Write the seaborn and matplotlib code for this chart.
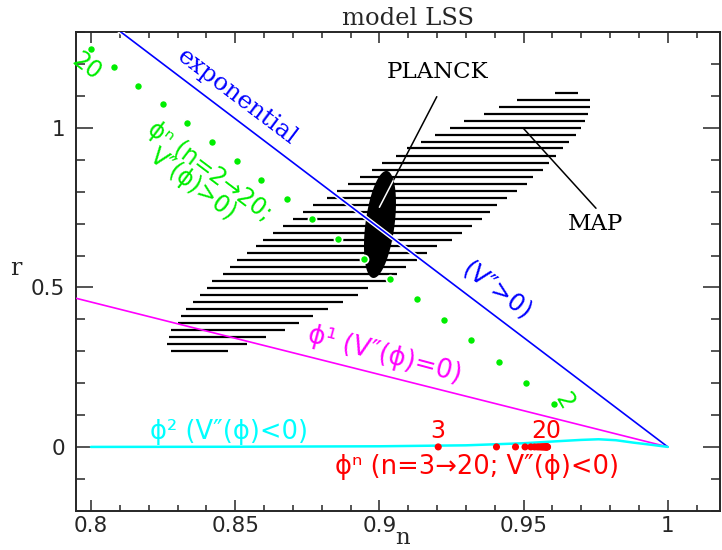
import numpy as np
import pandas as pd
import matplotlib
matplotlib.use("Agg")
import matplotlib.pyplot as plt
import matplotlib.patheffects as pe
from matplotlib.ticker import FixedLocator, MultipleLocator
import seaborn as sns

# ---------------- data ----------------
x_ticks = [0.8, 0.85, 0.9, 0.95, 1.0]
x_ticklabels = ["0.8", "0.85", "0.9", "0.95", "1"]
y_ticks = [0.0, 0.5, 1.0]
y_ticklabels = ["0", "0.5", "1"]

# exponential potential (V''>0)
exp_n = [0.80, 1.00]
exp_r = [1.372, 0.0]

# phi^1 (V''=0)
phi1_n = [0.79, 1.00]
phi1_r = [0.477, 0.0]

# phi^2 (V''<0)
phi2_n = [0.80, 0.85, 0.90, 0.93, 0.95, 0.963, 0.970, 0.976, 0.982, 0.988, 0.994, 1.00]
phi2_r = [0.0, 0.0005, 0.002, 0.005, 0.0115, 0.0185, 0.022, 0.024, 0.021, 0.0135, 0.007, 0.0]

# phi^n, n = 20 -> 2, V''>0
green_n = [0.7999, 0.8080, 0.8164, 0.8249, 0.8332, 0.8419, 0.8505, 0.8591, 0.8680,
           0.8767, 0.8857, 0.8948, 0.9038, 0.9131, 0.9223, 0.9317, 0.9413, 0.9508, 0.9605]
green_r = [1.2476, 1.1903, 1.1326, 1.0743, 1.0166, 0.9571, 0.8966, 0.8370, 0.7765,
           0.7147, 0.6530, 0.5903, 0.5266, 0.4630, 0.3991, 0.3345, 0.2674, 0.2016, 0.1348]

# phi^n, n = 3 -> 20, V''<0
red_n = [0.9204, 0.9406, 0.9472, 0.9505, 0.9525, 0.9538, 0.9548, 0.9555, 0.9561,
         0.9565, 0.9569, 0.9572, 0.9575, 0.9577, 0.9579, 0.9580, 0.9582, 0.9583]
red_r = [0.0, 0.0, 0.0, 0.0, 0.0, 0.0, 0.0, 0.0, 0.0,
         0.0, 0.0, 0.0, 0.0, 0.0, 0.0, 0.0, 0.0, 0.0]

# MAP region, hatched with horizontal lines
map_r = [1.1088, 1.0878, 1.0658, 1.0439, 1.0219, 1.0009, 0.9790, 0.9571, 0.9364, 0.9132,
         0.8912, 0.8693, 0.8473, 0.8254, 0.8034, 0.7815, 0.7596, 0.7376, 0.7157, 0.6937,
         0.6718, 0.6498, 0.6292, 0.6072, 0.5853, 0.5633, 0.5414, 0.5194, 0.4975, 0.4755,
         0.4536, 0.4317, 0.4097, 0.3878, 0.3658, 0.3439, 0.3229, 0.3009]
map_nlo = [0.9609, 0.9478, 0.9413, 0.9363, 0.9295, 0.9245, 0.9194, 0.9143, 0.9095, 0.9058,
           0.9008, 0.8974, 0.8933, 0.8890, 0.8854, 0.8817, 0.8769, 0.8736, 0.8700, 0.8665,
           0.8630, 0.8596, 0.8572, 0.8542, 0.8505, 0.8482, 0.8457, 0.8421, 0.8401, 0.8378,
           0.8355, 0.8330, 0.8311, 0.8302, 0.8276, 0.8270, 0.8265, 0.8276]
map_nhi = [0.9688, 0.9731, 0.9731, 0.9723, 0.9713, 0.9698, 0.9681, 0.9658, 0.9636, 0.9613,
           0.9588, 0.9567, 0.9531, 0.9511, 0.9476, 0.9442, 0.9407, 0.9384, 0.9355, 0.9320,
           0.9286, 0.9251, 0.9199, 0.9164, 0.9130, 0.9092, 0.9061, 0.9026, 0.8962, 0.8927,
           0.8875, 0.8823, 0.8771, 0.8722, 0.8673, 0.8607, 0.8540, 0.8474]

# PLANCK ellipse: centre and half-axis vectors (n, r)
planck_center = (0.9002, 0.6975)
planck_major = (0.0024, 0.1677)
planck_minor = (0.0050, -0.0058)

# leader lines (n, r)
planck_leader_n = [0.9199, 0.9000]
planck_leader_r = [1.0981, 0.7514]
map_leader_n = [0.9499, 0.9751]
map_leader_r = [0.9991, 0.7483]

# ---------------- style ----------------
sns.set_style("ticks")
plt.rcParams["font.family"] = ["DejaVu Sans"]

BLUE = "#0000ff"
MAG = "#ff00ff"
CYAN = "#00ffff"
GREEN = "#00ee00"
RED = "#ff0000"

fig = plt.figure(figsize=(7.22, 5.5), dpi=100)
ax = fig.add_axes([76 / 722, 1 - 510.7 / 550, (720 - 76) / 722, (510.7 - 32.3) / 550])

# MAP hatching
ax.hlines(map_r, map_nlo, map_nhi, colors="black", linewidth=1.6, zorder=1)

# MAP leader
sns.lineplot(x=map_leader_n, y=map_leader_r, ax=ax, color="black", linewidth=1.1,
             sort=False, estimator=None, zorder=2)

# PLANCK leader (black part) and ellipse
sns.lineplot(x=planck_leader_n, y=planck_leader_r, ax=ax, color="black", linewidth=1.1,
             sort=False, estimator=None, zorder=2)
t = np.linspace(0, 2 * np.pi, 300)
ell_n = planck_center[0] + planck_major[0] * np.cos(t) + planck_minor[0] * np.sin(t)
ell_r = planck_center[1] + planck_major[1] * np.cos(t) + planck_minor[1] * np.sin(t)
ell = ax.fill(ell_n, ell_r, color="black", zorder=3, linewidth=0)[0]
wl, = ax.plot(planck_leader_n, planck_leader_r, color="white", linewidth=1.1, zorder=4)
wl.set_clip_path(ell)

# model lines
line_df = pd.DataFrame({"n": exp_n, "r": exp_r})
sns.lineplot(data=line_df, x="n", y="r", ax=ax, color=BLUE, linewidth=1.2, sort=False,
             estimator=None, zorder=5,
             path_effects=[pe.Stroke(linewidth=3.2, foreground="white"), pe.Normal()])
sns.lineplot(x=phi1_n, y=phi1_r, ax=ax, color=MAG, linewidth=1.2, sort=False,
             estimator=None, zorder=5)
sns.lineplot(x=phi2_n, y=phi2_r, ax=ax, color=CYAN, linewidth=1.8, sort=False,
             estimator=None, zorder=5)

# points
ax.scatter(green_n, green_r, s=34, color=GREEN, edgecolors="white", linewidths=1.2, zorder=6)
ax.scatter(red_n, red_r, s=26, color=RED, edgecolors="none", zorder=6)

ax.set_xlim(0.7948, 1.0181)
ax.set_ylim(-0.2, 1.3)

# ticks
ax.xaxis.set_major_locator(FixedLocator(x_ticks))
ax.set_xticklabels(x_ticklabels)
ax.yaxis.set_major_locator(FixedLocator(y_ticks))
ax.set_yticklabels(y_ticklabels)
ax.xaxis.set_minor_locator(MultipleLocator(0.01))
ax.yaxis.set_minor_locator(MultipleLocator(0.1))
ax.tick_params(axis="x", which="major", direction="in", length=8, width=1.1, top=True,
               bottom=True, labelsize=15.5, pad=4)
ax.tick_params(axis="x", which="minor", direction="in", length=4.3, width=1.1, top=True,
               bottom=True)
ax.tick_params(axis="y", which="major", direction="in", length=12, width=1.1, left=True,
               right=True, labelsize=15.5, pad=8)
ax.tick_params(axis="y", which="minor", direction="in", length=6.5, width=1.1, left=True,
               right=True)
for s in ax.spines.values():
    s.set_linewidth(1.4)
    s.set_visible(True)
ax.set_xlabel("")
ax.set_ylabel("")

# axis labels and title
fig.text(403 / 722, 1 / 550, "n", ha="center", va="bottom", family="DejaVu Serif", size=16.5)
fig.text(16 / 722, 1 - 275 / 550, "r", ha="center", va="baseline", family="DejaVu Serif", size=17)
fig.text(408 / 722, 1 - 25 / 550, "model LSS", ha="center", va="baseline",
         family="DejaVu Serif", size=17.5)

# annotations
def lab(n, r, s, color, size=16, rot=0, family="DejaVu Sans"):
    ax.text(n, r, s, color=color, fontsize=size, rotation=rot, rotation_mode="anchor",
            ha="center", va="center", family=family, zorder=7)

lab(0.9201, 1.1740, "PLANCK", "black", 16.5, 0, "DejaVu Serif")
lab(0.9751, 0.6991, "MAP", "black", 16.5, 0, "DejaVu Serif")
lab(0.8505, 1.0972, "exponential", BLUE, 17.5, -37, "DejaVu Serif")
lab(0.9410, 0.4890, "(V\u2033>0)", BLUE, 17.5, -37)
lab(0.8413, 0.8652, "\u03d5\u207f (n=2\u219220;", GREEN, 17, -37)
lab(0.8355, 0.8219, "V\u2033(\u03d5)>0)", GREEN, 17, -37)
lab(0.7983, 1.1944, "20", GREEN, 17, -37)
lab(0.9640, 0.1442, "2", GREEN, 17, -60)
lab(0.9020, 0.2884, "\u03d5\u00b9 (V\u2033(\u03d5)=0)", MAG, 18.5, -15)
lab(0.8479, 0.0470, "\u03d5\u00b2 (V\u2033(\u03d5)<0)", CYAN, 18.5, 0)
lab(0.9202, 0.0502, "3", RED, 17, 0)
lab(0.9578, 0.0502, "20", RED, 17, 0)
lab(0.9339, -0.0627, "\u03d5\u207f (n=3\u219220; V\u2033(\u03d5)<0)", RED, 18.5, 0)

fig.savefig("out.png", dpi=100)
